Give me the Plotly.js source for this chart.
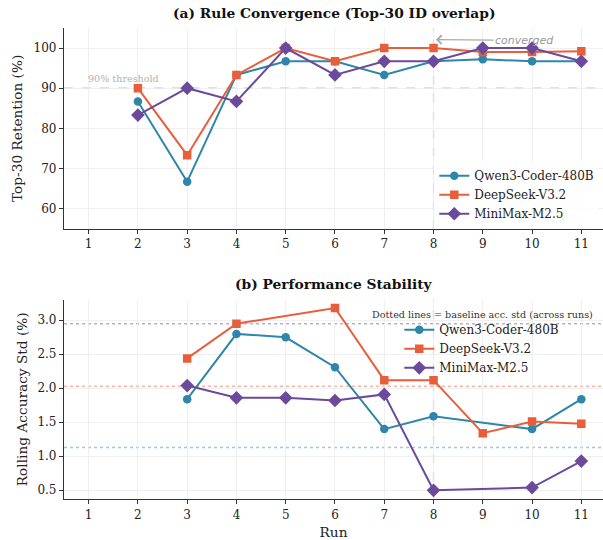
<!DOCTYPE html>
<html>
<head>
<meta charset="utf-8">
<script src="https://cdn.plot.ly/plotly-3.0.1.min.js"></script>
<style>html,body{margin:0;padding:0;background:#fff;}#chart{width:603px;height:540px;}</style>
</head>
<body>
<div id="chart"></div>
<script>
// ---- data ----
const models = ["Qwen3-Coder-480B", "DeepSeek-V3.2", "MiniMax-M2.5"];
const colors = ["#2E86AB", "#E95E3A", "#6B4A9B"];
const symbols = ["circle", "square", "diamond"];

const retRuns = [2, 3, 4, 5, 6, 7, 8, 9, 10, 11];
const qwenRet = [86.7, 66.7, 93.3, 96.7, 96.7, 93.3, 96.7, 97.2, 96.7, 96.7];
const dsRet   = [90.0, 73.3, 93.3, 100, 96.7, 100, 100, 99.0, 99.0, 99.2];
const mmRet   = [83.3, 90.0, 86.7, 100, 93.3, 96.7, 96.7, 100, 100, 96.7];

const qwenStdRuns = [3, 4, 5, 6, 7, 8, 10, 11];
const qwenStd     = [1.84, 2.80, 2.75, 2.31, 1.40, 1.59, 1.40, 1.84];
const dsStdRuns   = [3, 4, 6, 7, 8, 9, 10, 11];
const dsStd       = [2.44, 2.95, 3.18, 2.12, 2.12, 1.34, 1.51, 1.48];
const mmStdRuns   = [3, 4, 5, 6, 7, 8, 10, 11];
const mmStd       = [2.04, 1.86, 1.86, 1.82, 1.91, 0.50, 0.54, 0.93];

const baselineStd = [1.13, 2.03, 2.95];
const threshold = 90;
const convergedRun = 8;
const runTicks = [1, 2, 3, 4, 5, 6, 7, 8, 9, 10, 11];

// ---- build ----
const serif = "DejaVu Serif";
const retY = [qwenRet, dsRet, mmRet];
const stdX = [qwenStdRuns, dsStdRuns, mmStdRuns];
const stdY = [qwenStd, dsStd, mmStd];
const msize = [8.5, 8.5, 10.5];

function rgba(hex, a) {
  const n = parseInt(hex.slice(1), 16);
  return `rgba(${(n >> 16) & 255},${(n >> 8) & 255},${n & 255},${a})`;
}

const traces = [];
models.forEach((m, i) => {
  traces.push({
    x: retRuns, y: retY[i], name: m, type: "scatter", mode: "lines+markers",
    xaxis: "x", yaxis: "y", legend: "legend",
    line: {color: colors[i], width: 2},
    marker: {symbol: symbols[i], size: msize[i], color: colors[i]}
  });
});
models.forEach((m, i) => {
  traces.push({
    x: stdX[i], y: stdY[i], name: m, type: "scatter", mode: "lines+markers",
    xaxis: "x2", yaxis: "y2", legend: "legend2",
    line: {color: colors[i], width: 2},
    marker: {symbol: symbols[i], size: msize[i], color: colors[i]}
  });
});

const shapes = [
  {type: "line", xref: "x domain", yref: "y", x0: 0, x1: 1, y0: threshold, y1: threshold,
   line: {color: "#c4c4c4", width: 1.2, dash: "dash"}, layer: "below"},
  {type: "line", xref: "x", yref: "y domain", x0: convergedRun, x1: convergedRun, y0: 0, y1: 1,
   line: {color: "#b4b4b4", width: 1.2, dash: "dash"}, layer: "below"},
  {type: "line", xref: "x2", yref: "y2 domain", x0: convergedRun, x1: convergedRun, y0: 0, y1: 1,
   line: {color: "#b4b4b4", width: 1.2, dash: "dash"}, layer: "below"}
];
baselineStd.forEach((b, i) => {
  shapes.push({type: "line", xref: "x2 domain", yref: "y2", x0: 0, x1: 1, y0: b, y1: b,
    line: {color: rgba(colors[i], 0.45), width: 1.5, dash: "dot"}, layer: "below"});
});

const axisCommon = {
  showline: true, linecolor: "#333", linewidth: 1.1,
  ticks: "outside", ticklen: 4, tickcolor: "#333", tickwidth: 1,
  showgrid: true, gridcolor: "#ececec", gridwidth: 0.8, zeroline: false,
  tickfont: {family: serif, size: 12, color: "#222"}
};
const titleFont = {family: serif, size: 13.7, color: "#222"};

const layout = {
  width: 603, height: 540,
  margin: {l: 63.5, r: 0, t: 27.6, b: 41.3},
  paper_bgcolor: "#fff", plot_bgcolor: "#fff",
  showlegend: true,
  xaxis: Object.assign({}, axisCommon, {domain: [0, 1], anchor: "y", range: [0.5, 11.44], tickvals: runTicks}),
  yaxis: Object.assign({}, axisCommon, {domain: [0.574, 1], anchor: "x", range: [55, 105], tickvals: [60, 70, 80, 90, 100],
    title: {text: "Top-30 Retention (%)", font: titleFont, standoff: 7}}),
  xaxis2: Object.assign({}, axisCommon, {domain: [0, 1], anchor: "y2", range: [0.5, 11.44], tickvals: runTicks,
    title: {text: "Run", font: titleFont, standoff: 6}}),
  yaxis2: Object.assign({}, axisCommon, {domain: [0, 0.4233], anchor: "x2", range: [0.372, 3.304],
    tickvals: [0.5, 1.0, 1.5, 2.0, 2.5, 3.0], tickformat: ".1f",
    title: {text: "Rolling Accuracy Std (%)", font: titleFont, standoff: 6}}),
  legend: {x: 0.687, y: 0.717, xanchor: "left", yanchor: "top", bgcolor: "rgba(255,255,255,0.8)",
    borderwidth: 0, font: {family: serif, size: 12, color: "#222"}, itemwidth: 30},
  legend2: {x: 0.622, y: 0.390, xanchor: "left", yanchor: "top", bgcolor: "rgba(255,255,255,0)",
    borderwidth: 0, font: {family: serif, size: 12, color: "#222"}, itemwidth: 30},
  shapes: shapes,
  annotations: [
    {text: "<b>(a) Rule Convergence (Top-30 ID overlap)</b>", xref: "paper", yref: "paper", x: 0.5, y: 1.031,
     xanchor: "center", yanchor: "middle", showarrow: false, font: {family: serif, size: 13.8, color: "#111"}},
    {text: "<b>(b) Performance Stability</b>", xref: "paper", yref: "paper", x: 0.5, y: 0.4564,
     xanchor: "center", yanchor: "middle", showarrow: false, font: {family: serif, size: 13.8, color: "#111"}},
    {text: "90% threshold", xref: "x", yref: "y", x: runTicks[0] - 0.06, y: threshold + 2.3, xanchor: "left", yanchor: "middle",
     showarrow: false, font: {family: serif, size: 9.6, color: "#b0b0b0"}},
    {text: "<i>converged</i>", xref: "x", yref: "y", x: convergedRun + 0.05, y: 102.1,
     axref: "x", ayref: "y", ax: convergedRun + 1.85, ay: 101.9, showarrow: true,
     arrowhead: 4, arrowsize: 1.3, arrowwidth: 1.3, arrowcolor: "#aaaaaa",
     font: {family: "DejaVu Sans", size: 11, color: "#999"}},
    {text: "Dotted lines = baseline acc. std (across runs)", xref: "paper", yref: "paper", x: 0.7757, y: 0.392,
     xanchor: "center", yanchor: "middle", showarrow: false, font: {family: serif, size: 9.6, color: "#333"}}
  ]
};

Plotly.newPlot("chart", traces, layout, {displayModeBar: false, staticPlot: true});
</script>
</body>
</html>
